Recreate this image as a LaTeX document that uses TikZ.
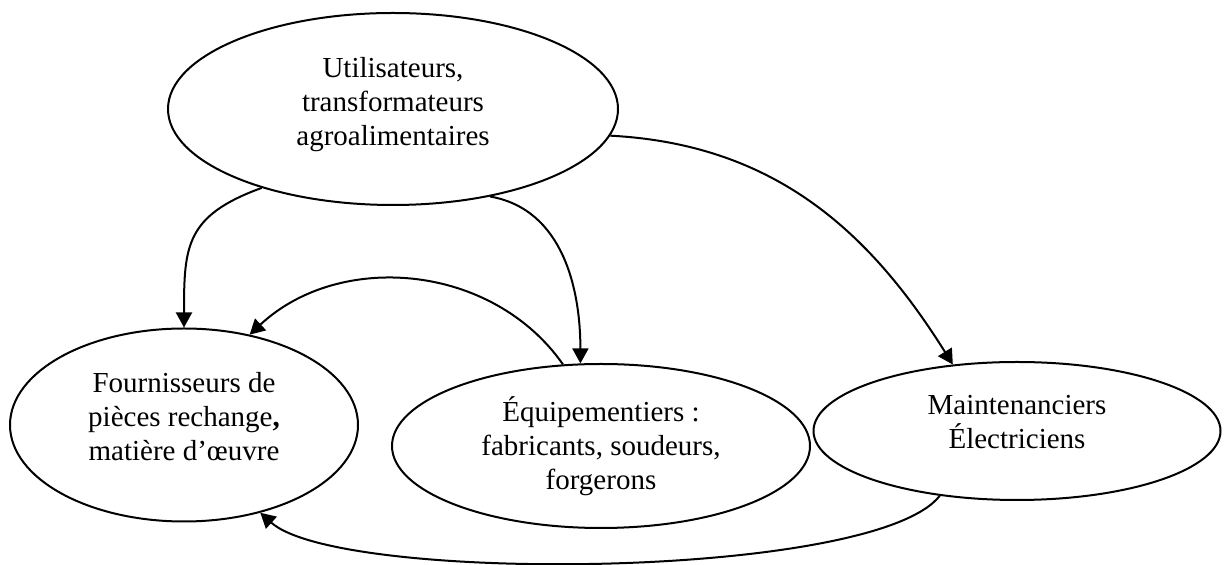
\documentclass[tikz,border=0pt]{standalone}
\usepackage{fontspec}
\setmainfont{Liberation Serif}
\usetikzlibrary{shapes.geometric}
\usetikzlibrary{arrows.meta}

\begin{document}
\begin{tikzpicture}[%
  >={Triangle[length=7.5pt,width=8pt]},
  x=0.5pt, y=-0.5pt,
  acteur/.style={ellipse, draw, line width=1pt, inner sep=0pt,
    align=center, font=\fontsize{14.5}{17}\selectfont},
  lien/.style={->, line width=1pt}
]

  \useasboundingbox (0,0) rectangle (1227,565);

  \node[acteur, minimum width=225pt, minimum height=96pt] (util) at (393,109)
    {Utilisateurs,\\transformateurs\\agroalimentaires\\[-9pt]};
  \node[acteur, minimum width=174pt, minimum height=96.5pt] (fourn) at (184,425)
    {Fournisseurs de\\pi\`eces rechange\textbf{,}\\mati\`ere d’\oe uvre\\[-8pt]};
  \node[acteur, minimum width=209pt, minimum height=82pt] (equip) at (601,446)
    {\'Equipementiers :\\fabricants, soudeurs,\\forgerons};
  \node[acteur, minimum width=203.5pt, minimum height=69pt] (maint) at (1017,431)
    {Maintenanciers\\\'Electriciens\\[-8pt]};

  \draw[lien] (util.211.6) to[out=200, in=90, looseness=1.3] (fourn.90);
  \draw[lien] (util.-42.8) to[out=-10, in=90] (equip.104.5);
  \draw[lien] (util.-7.4) to[out=-3, in=122] (maint.134.6);
  \draw[lien] (equip.115.7) to[out=125, in=43] (fourn.54.4);
  \draw[lien] (maint.220.6) to[out=232, in=-42, looseness=0.4] (fourn.-49.7);

\end{tikzpicture}
\end{document}
